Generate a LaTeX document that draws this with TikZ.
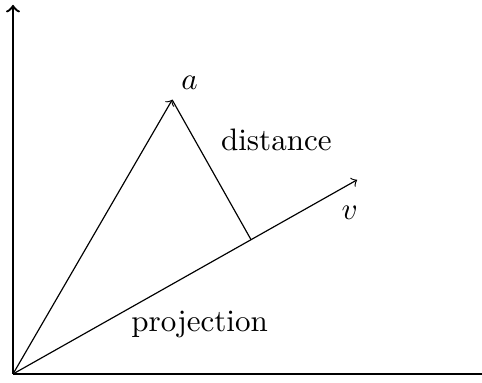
\documentclass[tikz,border=0pt]{standalone}
\usepackage{tikz}
\usetikzlibrary{arrows, positioning, calc}
\tikzset{
  eje/.style={thick,->},
  vec/.style={->},
  etiq/.style={font=\normalsize, scale=1.06}
}
\begin{document}
\begin{tikzpicture}
  \useasboundingbox (-0.156,-0.108) rectangle (5.628,4.488);
  \coordinate (o) at (0,0);
  \coordinate (xa) at (5.9,0);
  \coordinate (ya) at (0,4.43);
  \coordinate (va) at (1.91,3.29);
  \coordinate (vv) at (4.13,2.33);
  \coordinate (pie) at ($(o)!(va)!(vv)$);
  \draw [eje] (o) -- (xa);
  \draw [eje] (o) -- (ya);
  \draw [vec] (o) -- (va);
  \draw [vec] (o) -- (vv);
  \draw (va) -- (pie);
  \node (la) [etiq] at (2.12,3.49) {$a$};
  \node (lv) [etiq] at (4.04,1.93) {$v$};
  \node (ldist) [etiq] at (3.16,2.81) {distance};
  \node (lproy) [etiq] at (2.24,0.59) {projection};
\end{tikzpicture}
\end{document}
